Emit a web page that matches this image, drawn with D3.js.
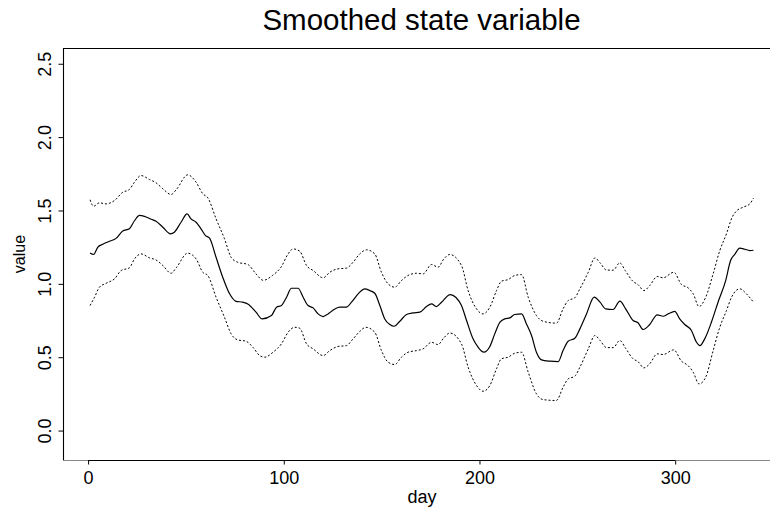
<!DOCTYPE html>
<html>
<head>
<meta charset="utf-8">
<script src="https://cdn.jsdelivr.net/npm/d3@7"></script>
<style>
  html, body { margin: 0; padding: 0; background: #fff; }
  svg { display: block; font-family: "Liberation Sans", Arial, Helvetica, sans-serif; }
</style>
</head>
<body>
<svg id="chart" width="770" height="514"></svg>
<script>
// ---- data ----
const titleText = "Smoothed state variable";
const xLabel = "day";
const yLabel = "value";
const xTicks = [0, 100, 200, 300];
const yTicks = [0, 0.5, 1.0, 1.5, 2.0, 2.5];
const xLimits = [1, 340];
const yLimits = [-0.1, 2.5];

const meanDay = [1,2.8,5,7.5,10.9,14.3,17.7,21.1,23.7,26.3,28.8,32.2,34.7,38.2,42.1,44.1,47.5,50.6,52.6,55.2,57.7,60,62,65.4,68.8,72.3,75.6,79,81.6,85.8,88.9,93.7,96.3,98.8,101.4,103.9,107.3,109.9,112.4,115,117.5,120.1,122.6,126.1,128.6,132,134.6,138,141.4,144,146.5,149.1,151.6,154.2,156.4,159.3,162.7,166.1,169.5,172.9,175.5,178,180.6,185,188,190.8,193.4,196.7,199.3,202.2,205.3,207.8,210.4,212.9,215.5,218,221.5,224,226.6,229.1,231.7,235.9,240.2,242.7,245.3,248.7,251.3,254.7,258.6,261.5,264.5,268.3,271.7,274.7,278.5,281,283.6,287,290.8,293.8,296.4,299.8,302.3,304.9,308.3,310.9,312.6,315.1,318.5,321.9,325.8,328.3,330.4,333,335.6,338.1,340];
const meanVal = [1.21,1.20,1.25,1.27,1.29,1.31,1.36,1.375,1.43,1.466,1.46,1.44,1.427,1.386,1.341,1.352,1.42,1.477,1.443,1.42,1.375,1.329,1.313,1.181,1.045,0.932,0.881,0.875,0.863,0.807,0.761,0.784,0.841,0.852,0.909,0.970,0.970,0.909,0.852,0.836,0.795,0.777,0.795,0.829,0.841,0.841,0.875,0.932,0.966,0.954,0.936,0.852,0.761,0.723,0.711,0.745,0.791,0.802,0.807,0.845,0.863,0.845,0.875,0.927,0.907,0.852,0.75,0.625,0.568,0.534,0.573,0.659,0.738,0.761,0.768,0.791,0.795,0.727,0.648,0.534,0.482,0.473,0.470,0.545,0.609,0.629,0.693,0.795,0.909,0.877,0.829,0.825,0.882,0.83,0.75,0.735,0.689,0.723,0.789,0.779,0.795,0.813,0.761,0.723,0.682,0.602,0.579,0.625,0.738,0.875,1.022,1.159,1.2,1.243,1.236,1.227,1.229];

const upperDay = [1,2.8,5.8,9.2,13.5,17.7,21.1,23.7,27.1,31.4,34.7,38.2,42.4,45,50.9,55.2,58.6,61.2,65.4,69.7,73.1,76.5,81.6,85.8,89.5,94.2,98.8,102.2,104.8,108.2,111.6,115,120.1,123.5,127.7,132,135.4,138.8,142.3,146.5,149.9,153.3,156.7,160.1,163.5,167.8,171.2,175.5,178.8,181.8,184.8,190.8,194.2,198.5,201.8,205.3,208.7,211.2,214.6,218,221.5,224.9,229.1,232.5,239.3,242.7,245.3,248.7,251.3,255.6,259,261.5,264.9,268.3,271.7,274.5,278.5,281,284,287,290.8,293.8,299.3,303.2,306.6,309.2,312.2,315.6,319.4,322.8,326.2,329.1,331.6,334.7,338.1,340];
const upperVal = [1.573,1.529,1.552,1.545,1.568,1.624,1.643,1.693,1.738,1.711,1.689,1.648,1.609,1.641,1.743,1.693,1.614,1.586,1.443,1.307,1.181,1.147,1.132,1.068,1.024,1.057,1.118,1.204,1.238,1.222,1.125,1.091,1.041,1.079,1.102,1.107,1.147,1.204,1.232,1.204,1.079,1.0,0.977,1.022,1.057,1.072,1.068,1.132,1.113,1.17,1.2,1.125,0.954,0.829,0.795,0.841,0.954,1.018,1.029,1.057,1.063,0.909,0.784,0.745,0.732,0.829,0.886,0.905,0.966,1.079,1.177,1.145,1.094,1.093,1.143,1.09,1.016,0.995,0.954,0.988,1.05,1.041,1.079,0.995,0.973,0.932,0.845,0.909,1.068,1.227,1.341,1.454,1.5,1.522,1.545,1.584];

const lowerDay = [1,3.3,5.8,9.2,13.5,16.9,21.1,23.7,27.1,31.4,34.7,38.2,42.4,45,50.9,55.2,58.6,61.2,65.4,69.7,73.1,76.5,80.7,84.2,87.7,90.3,94.5,98.8,102.2,105.6,108.2,111.6,115,120.1,123.5,127.7,132,135.4,138.8,141.9,146.5,149.9,153.3,156.7,160.1,163.5,167.8,171.2,175.5,178.8,181.8,184.8,190.8,194.2,198.5,201.8,205.3,208.7,211.2,214.6,218,221.5,224.9,229.1,232.5,239.3,242.7,245.3,248.7,251.3,255.6,259,261.5,264.9,268.3,271.7,274.7,278.5,281,284,287,290.8,293.8,299.3,303.2,306.6,309.2,312.2,315.6,319.4,322.8,326.2,328.8,333,336.4,340];
const lowerVal = [0.852,0.909,0.977,1.004,1.034,1.091,1.109,1.170,1.204,1.177,1.163,1.125,1.072,1.109,1.209,1.170,1.079,1.057,0.909,0.772,0.659,0.618,0.609,0.568,0.511,0.5,0.534,0.591,0.670,0.704,0.697,0.591,0.557,0.511,0.545,0.573,0.579,0.625,0.675,0.704,0.670,0.545,0.466,0.450,0.5,0.534,0.545,0.557,0.602,0.586,0.632,0.665,0.591,0.432,0.307,0.268,0.307,0.421,0.489,0.5,0.527,0.534,0.398,0.25,0.211,0.205,0.295,0.352,0.370,0.432,0.557,0.648,0.616,0.566,0.565,0.614,0.56,0.489,0.47,0.427,0.455,0.523,0.518,0.55,0.473,0.443,0.398,0.318,0.364,0.545,0.704,0.818,0.909,0.966,0.932,0.875];

// ---- layout ----
const plot = { left: 63.5, right: 780, top: 48.5, bottom: 460.5 };
function expand(l) { const d = (l[1] - l[0]) * 0.04; return [l[0] - d, l[1] + d]; }

const x = d3.scaleLinear().domain(expand(xLimits)).range([plot.left, plot.right]);
const y = d3.scaleLinear().domain(expand(yLimits)).range([plot.bottom, plot.top]);

const svg = d3.select("#chart");
svg.append("rect").attr("width", 770).attr("height", 514).attr("fill", "#fff");

const line = d3.line().x(d => x(d[0])).y(d => y(d[1])).curve(d3.curveMonotoneX);
const zip = (a, b) => a.map((v, i) => [v, b[i]]);

svg.append("path").datum(zip(upperDay, upperVal)).attr("d", line)
  .attr("fill", "none").attr("stroke", "#000").attr("stroke-width", 1).attr("stroke-dasharray", "2,2");
svg.append("path").datum(zip(lowerDay, lowerVal)).attr("d", line)
  .attr("fill", "none").attr("stroke", "#000").attr("stroke-width", 1).attr("stroke-dasharray", "2,2");
svg.append("path").datum(zip(meanDay, meanVal)).attr("d", line)
  .attr("fill", "none").attr("stroke", "#000").attr("stroke-width", 1.2);

// box
svg.append("path")
  .attr("d", `M${plot.left},${plot.bottom}V${plot.top}H${plot.right}`)
  .attr("fill", "none").attr("stroke", "#000").attr("stroke-width", 1.1);
svg.append("line")
  .attr("x1", plot.left).attr("x2", plot.right).attr("y1", plot.bottom).attr("y2", plot.bottom)
  .attr("stroke", "#888").attr("stroke-width", 1);

// x axis
const xAxis = d3.axisBottom(x).tickValues(xTicks).tickSize(4).tickSizeOuter(0).tickPadding(7)
  .tickFormat(d3.format("d"));
const gx = svg.append("g").attr("transform", `translate(0,${plot.bottom})`).call(xAxis);
gx.select(".domain").attr("d", `M${x(xTicks[0])},0H${x(xTicks[xTicks.length - 1])}`).attr("stroke", "#000");
gx.selectAll("text").attr("font-size", 18).attr("font-family", "Liberation Sans, Arial, sans-serif").attr("fill", "#000");

// y axis
const yAxis = d3.axisLeft(y).tickValues(yTicks).tickSize(5).tickSizeOuter(0).tickFormat(d3.format(".1f"));
const gy = svg.append("g").attr("transform", `translate(${plot.left},0)`).call(yAxis);
gy.select(".domain").attr("d", `M0,${y(yTicks[0])}V${y(yTicks[yTicks.length - 1])}`).attr("stroke", "#000");
gy.selectAll("text")
  .attr("font-size", 18).attr("font-family", "Liberation Sans, Arial, sans-serif").attr("fill", "#000")
  .attr("text-anchor", "middle").attr("x", null)
  .attr("transform", "translate(-13,0) rotate(-90)")
  .attr("dy", "0");

// labels
svg.append("text").attr("x", 421.5).attr("y", 30).attr("text-anchor", "middle")
  .attr("font-size", 29.5).text(titleText);
svg.append("text").attr("x", 422).attr("y", 503).attr("text-anchor", "middle")
  .attr("font-size", 18).text(xLabel);
svg.append("text").attr("transform", "translate(25,254) rotate(-90)").attr("text-anchor", "middle")
  .attr("font-size", 16).text(yLabel);
</script>
</body>
</html>
